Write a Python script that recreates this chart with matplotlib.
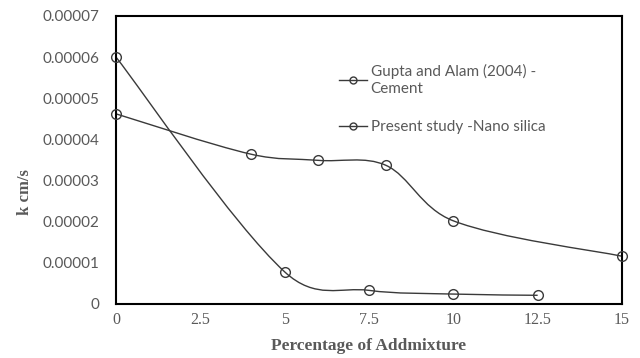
import numpy as np
import matplotlib
matplotlib.use("Agg")
import matplotlib.pyplot as plt
from matplotlib.path import Path
from matplotlib.patches import PathPatch
from matplotlib.lines import Line2D

# Permeability coefficient k (cm/s) versus admixture percentage
gupta_x = [0, 5, 7.5, 10, 12.5]
gupta_k = [0.00006, 0.0000078, 0.0000033, 0.0000024, 0.0000021]
present_x = [0, 4, 6, 8, 10, 15]
present_k = [0.0000462, 0.0000364, 0.0000349, 0.0000337, 0.0000202, 0.0000116]

series_labels = ["Gupta and Alam (2004) -\nCement", "Present study -Nano silica"]
x_ticks = [0, 2.5, 5, 7.5, 10, 12.5, 15]
x_ticklabels = ["0", "2.5", "5", "7.5", "10", "12.5", "15"]
y_ticks = [0, 0.00001, 0.00002, 0.00003, 0.00004, 0.00005, 0.00006, 0.00007]
y_ticklabels = ["0", "0.00001", "0.00002", "0.00003", "0.00004", "0.00005", "0.00006", "0.00007"]

LINE = "#3a3a3a"
TEXT = "#595959"


def smooth_path(xs, ys, ax):
    """Cubic Bezier through the points; tangents follow the neighbouring
    chord, partly scaled by each segment's share of the screen length."""
    pts = ax.transData.transform(np.column_stack([xs, ys]))
    n = len(pts)
    seg = np.linalg.norm(np.diff(pts, axis=0), axis=1)

    def tangent(i):
        if i == 0:
            return pts[1] - pts[0], None, seg[0]
        if i == n - 1:
            return pts[-1] - pts[-2], seg[-1], None
        return pts[i + 1] - pts[i - 1], seg[i - 1], seg[i]

    verts = [pts[0]]
    codes = [Path.MOVETO]
    for i in range(n - 1):
        t1, a1, b1 = tangent(i)
        t2, a2, b2 = tangent(i + 1)
        f1 = b1 / (a1 + b1) if a1 else 0.5
        f2 = a2 / (a2 + b2) if b2 else 0.5
        f1 = 0.5 * (f1 + 0.5)
        f2 = 0.5 * (f2 + 0.5)
        c1 = pts[i] + t1 * f1 / 3.0
        c2 = pts[i + 1] - t2 * f2 / 3.0
        verts += [c1, c2, pts[i + 1]]
        codes += [Path.CURVE4] * 3
    data_verts = ax.transData.inverted().transform(np.array(verts))
    return Path(data_verts, codes)


fig = plt.figure(figsize=(6.4, 3.58), dpi=100)
ax = fig.add_axes([0.18125, 0.151, 0.7906, 0.8045])
ax.set_xlim(0, 15)
ax.set_ylim(0, 0.00007)

for xs, ys in [(gupta_x, gupta_k), (present_x, present_k)]:
    patch = PathPatch(smooth_path(xs, ys, ax), facecolor="none",
                      edgecolor=LINE, linewidth=1.0, clip_on=False, zorder=2)
    ax.add_patch(patch)
    ax.plot(xs, ys, linestyle="none", marker="o", markersize=7,
            markerfacecolor="none", markeredgecolor=LINE,
            markeredgewidth=1.0, clip_on=False, zorder=3)

ax.set_xticks(x_ticks)
ax.set_xticklabels(x_ticklabels, fontfamily="Liberation Serif",
                   fontsize=11.5, color=TEXT)
ax.set_yticks(y_ticks)
ax.set_yticklabels(y_ticklabels, fontfamily="Lato", fontsize=11, color=TEXT)
ax.tick_params(axis="y", length=0, pad=12)
ax.tick_params(axis="x", length=0, pad=6)

for s in ax.spines.values():
    s.set_color("black")
    s.set_linewidth(1.5)

ax.set_xlabel("Percentage of Addmixture", fontfamily="Liberation Serif",
              fontweight="bold", fontsize=12.5, color=TEXT, labelpad=7)
ax.set_ylabel("k cm/s", fontfamily="Liberation Serif", fontweight="bold",
              fontsize=12, color=TEXT)
ax.yaxis.set_label_coords(-0.165, 0.39)

handles = [Line2D([], [], color=LINE, linewidth=1.0, marker="o", markersize=5,
                  markerfacecolor="none", markeredgecolor=LINE)
           for _ in series_labels]
leg = ax.legend(handles, series_labels, loc="upper left",
                bbox_to_anchor=(0.414, 0.88), frameon=False,
                prop={"family": "Lato", "size": 11}, labelcolor=TEXT,
                handlelength=1.8, handletextpad=0.25, labelspacing=1.6)

fig.savefig("out.png", dpi=100)
